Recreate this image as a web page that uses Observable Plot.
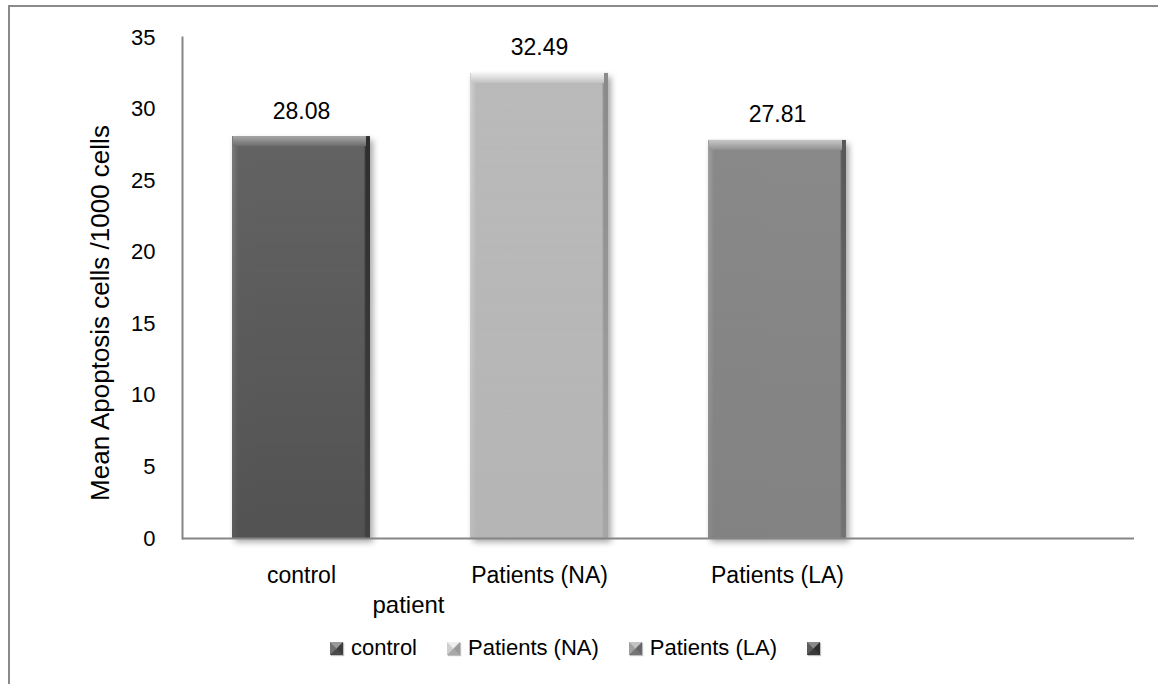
<!DOCTYPE html>
<html>
<head>
<meta charset="utf-8">
<script src="https://cdn.jsdelivr.net/npm/d3@7"></script>
<script src="https://cdn.jsdelivr.net/npm/@observablehq/plot@0.6"></script>
<style>
  html, body { margin: 0; padding: 0; background: #fff; overflow: hidden; }
  #wrap { position: relative; width: 1158px; height: 684px; overflow: hidden; font-family: "Liberation Sans", Arial, sans-serif; }
  #border { position: absolute; left: 8px; top: 5px; width: 1300px; height: 800px; border-left: 2px solid #8a8a8a; border-top: 2px solid #8a8a8a; box-sizing: border-box; }
  #chart { position: absolute; left: 0; top: 0; }
  #legend { position: absolute; left: 0; top: 634px; width: 1158px; display: flex; justify-content: center; align-items: center; font-size: 22px; color: #000; }
  .item { display: flex; align-items: center; margin: 0 15px; height: 28px; }
  .sw { display: inline-block; width: 1px; height: 1px; border-style: solid; border-width: 6px; margin-right: 8px; box-shadow: 1px 1px 1px rgba(0,0,0,0.25); }
</style>
</head>
<body>
<div id="wrap">
  <div id="border"></div>
  <div id="chart"></div>
  <div id="legend"></div>
</div>
<script>
// ---- data ----
const categories = ["control", "Patients (NA)", "Patients (LA)", ""];
const values = [28.08, 32.49, 27.81];
const valueLabels = ["28.08", "32.49", "27.81"];
const yTicks = [0, 5, 10, 15, 20, 25, 30, 35];
const yTitle = "Mean Apoptosis cells /1000 cells";
const xTitle = "patient";
const legendLabels = ["control", "Patients (NA)", "Patients (LA)", ""];
// colour sets per bar
const barBody = ["#646464", "#bababa", "#898989"];
const barBodyBottom = ["#4b4b4b", "#b3b3b3", "#7f7f7f"];
const barLeft = ["#7c7c7c", "#d2d2d2", "#a2a2a2"];
const barRight = ["#2f2f2f", "#8a8a8a", "#585858"];
const topLight = ["#a8a8a8", "#f4f4f4", "#c8c8c8"];
const topDark = ["#6c6c6c", "#c2c2c2", "#909090"];
// legend swatch colours: [top, left, right, bottom]
const legendColors = [
  ["#9a9a9a", "#707070", "#3c3c3c", "#4a4a4a"],
  ["#eeeeee", "#cfcfcf", "#9a9a9a", "#a9a9a9"],
  ["#c4c4c4", "#a0a0a0", "#666666", "#757575"],
  ["#8a8a8a", "#5a5a5a", "#2e2e2e", "#3a3a3a"]
];

const data = values.map((v, i) => ({cat: categories[i], value: v, label: valueLabels[i], i}));

const font = "Liberation Sans, Arial, sans-serif";

const plot = Plot.plot({
  width: 1158,
  height: 620,
  marginLeft: 182,
  marginRight: 24,
  marginTop: 37,
  marginBottom: 82,
  style: {fontFamily: font, fontSize: "22px", color: "#000", background: "transparent", overflow: "visible"},
  x: {domain: categories, paddingInner: 0.42, paddingOuter: 0.21, label: null},
  y: {domain: [0, 35], ticks: yTicks, label: null},
  marks: [
    Plot.axisY({ticks: yTicks, tickSize: 0, tickPadding: 27, label: null, fontSize: 22}),
    Plot.axisX({tickSize: 0, tickPadding: 28, label: null, fontSize: 23}),
    // bar body (horizontal edge gradient)
    Plot.barY(data, {x: "cat", y: "value", fill: d => `url(#body${d.i})`}),
    // vertical shading overlay
    Plot.barY(data, {x: "cat", y: "value", fill: d => `url(#shade${d.i})`}),
    // bevel top band
    Plot.barY(data, {x: "cat", y1: "value", y2: "value", insetBottom: -10, insetRight: 4, insetLeft: 1, fill: d => `url(#top${d.i})`}),
    // axes lines
    Plot.ruleY([0], {stroke: "#868686", strokeWidth: 2}),
    Plot.frame({anchor: "left", stroke: "#868686", strokeWidth: 2}),
    // value labels
    Plot.text(data, {x: "cat", y: "value", text: "label", lineAnchor: "bottom", dy: -18, fontSize: 23, fill: "#000"}),
    // axis titles
    Plot.text([yTitle], {frameAnchor: "left", textAnchor: "middle", dx: -82, dy: 25, rotate: -90, fontSize: 26, fill: "#000"}),
    Plot.text([xTitle], {frameAnchor: "bottom-left", textAnchor: "middle", dx: 226, dy: 74, fontSize: 24, fill: "#000"})
  ]
});

// gradient + shadow definitions
const svg = d3.select(plot);
let defs = `<filter id="shadow" x="-10%" y="-10%" width="130%" height="130%"><feDropShadow dx="3" dy="4" stdDeviation="3" flood-color="#000" flood-opacity="0.35"/></filter>`;
data.forEach(d => {
  const i = d.i;
  defs += `<linearGradient id="body${i}" x1="0" y1="0" x2="1" y2="0">
    <stop offset="0" stop-color="${barLeft[i]}"/><stop offset="0.045" stop-color="${barBody[i]}"/>
    <stop offset="0.955" stop-color="${barBody[i]}"/><stop offset="0.97" stop-color="${barRight[i]}"/>
    <stop offset="1" stop-color="${barRight[i]}"/></linearGradient>`;
  defs += `<linearGradient id="shade${i}" x1="0" y1="0" x2="0" y2="1">
    <stop offset="0" stop-color="${barBodyBottom[i]}" stop-opacity="0"/>
    <stop offset="1" stop-color="${barBodyBottom[i]}" stop-opacity="0.75"/></linearGradient>`;
  defs += `<linearGradient id="top${i}" x1="0" y1="0" x2="0" y2="1">
    <stop offset="0" stop-color="${topLight[i]}"/><stop offset="1" stop-color="${topDark[i]}"/></linearGradient>`;
});
svg.insert("defs", ":first-child").html(defs);
svg.selectAll("g[aria-label='bar']").filter((_, k) => k === 0).attr("filter", "url(#shadow)");
svg.selectAll("g[aria-label='bar']").filter((_, k) => k === 1).attr("opacity", 0.9);

document.getElementById("chart").appendChild(plot);

// legend
const legend = d3.select("#legend");
legendLabels.forEach((lab, i) => {
  const item = legend.append("div").attr("class", "item");
  const c = legendColors[i];
  item.append("span").attr("class", "sw")
    .style("border-color", `${c[0]} ${c[2]} ${c[3]} ${c[1]}`)
    .style("background", c[1]);
  if (lab) item.append("span").text(lab);
});
</script>
</body>
</html>
